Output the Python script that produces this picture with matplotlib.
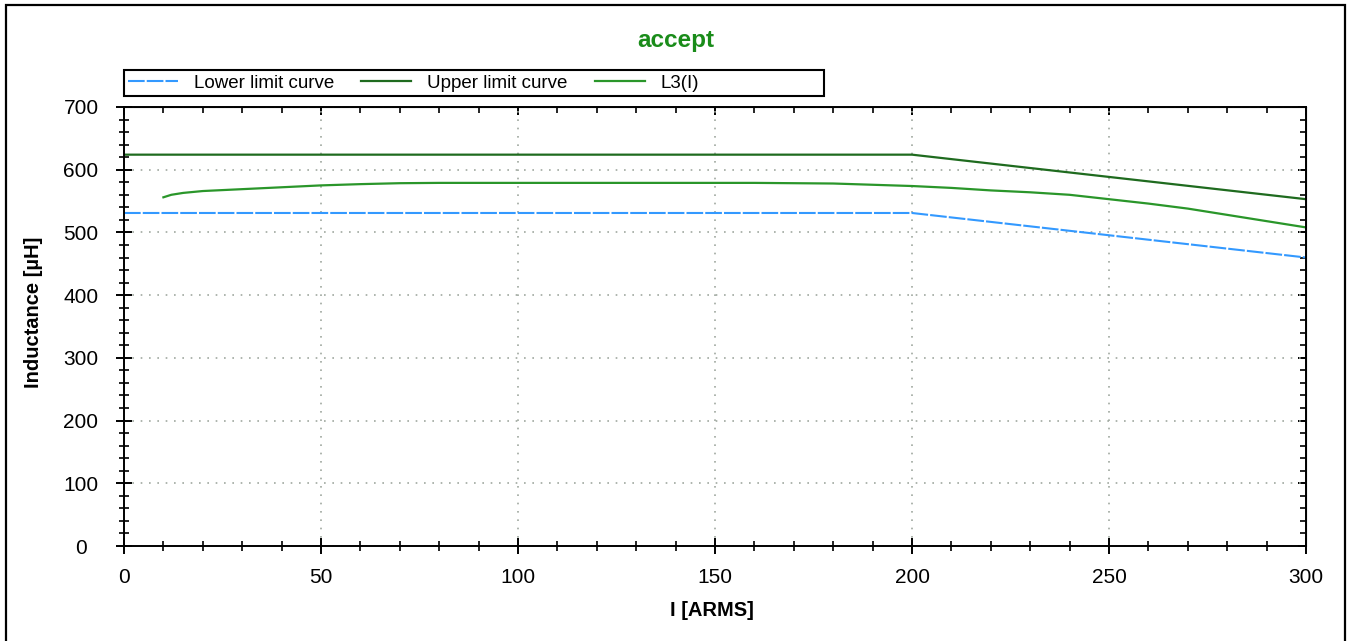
import numpy as np
import matplotlib
matplotlib.use("Agg")
import matplotlib.pyplot as plt
from matplotlib.patches import Rectangle
from matplotlib.ticker import MultipleLocator

plt.rcParams['font.family'] = ['Liberation Sans', 'DejaVu Sans']

# limit curves (corner points)
limit_x = [0, 200, 300]
lower_limit = [531, 531, 460]
upper_limit = [624, 624, 553]

# measured L3(I)
l3_x = [10, 12, 15, 20, 30, 40, 50, 60, 70, 80, 100, 120, 140, 160, 180,
        190, 200, 210, 220, 230, 240, 250, 260, 270, 280, 290, 300]
l3_y = [556, 560, 563, 566, 569, 572, 575, 577, 578.5, 579, 579, 579, 579, 579, 578,
        576, 574, 571, 567, 564, 560, 553, 546, 538, 528, 518, 508]

W, H = 1353, 641
fig = plt.figure(figsize=(W / 100, H / 100), dpi=100)
ax = fig.add_axes([124 / W, 1 - 546 / H, (1306 - 124) / W, (546 - 107) / H])

ax.plot(limit_x, lower_limit, color='#3399ff', lw=1.5, ls=(0, (8, 1)), label='Lower limit curve')
ax.plot(limit_x, upper_limit, color='#1f6b1f', lw=1.6, label='Upper limit curve')
ax.plot(l3_x, l3_y, color='#2a962a', lw=1.6, label='L3(I)')

ax.set_xlim(0, 300)
ax.set_ylim(0, 700)
ax.set_xticks(np.arange(0, 301, 50))
ax.set_yticks(np.arange(0, 701, 100))
ax.xaxis.set_minor_locator(MultipleLocator(10))
ax.yaxis.set_minor_locator(MultipleLocator(20))
ax.tick_params(which='major', direction='inout', length=12, width=1.4, labelsize=15)
ax.tick_params(which='minor', direction='inout', length=7, width=1.2)
ax.tick_params(axis='x', which='major', pad=10)
ax.tick_params(axis='y', which='major', pad=25)
plt.setp(ax.get_yticklabels(), ha='center')
for s in ax.spines.values():
    s.set_linewidth(1.4)
ax.grid(True, which='major', color='#a0a8a0', ls=(0, (1, 4)), lw=1.2)

# inward ticks on top and right
top = ax.secondary_xaxis('top')
top.set_xticks(np.arange(0, 301, 50))
top.xaxis.set_minor_locator(MultipleLocator(10))
top.tick_params(which='major', direction='in', length=6, width=1.4, labeltop=False)
top.tick_params(which='minor', direction='in', length=4, width=1.2)
right = ax.secondary_yaxis('right')
right.set_yticks(np.arange(0, 701, 100))
right.yaxis.set_minor_locator(MultipleLocator(20))
right.tick_params(which='major', direction='in', length=6, width=1.4, labelright=False)
right.tick_params(which='minor', direction='in', length=4, width=1.2)

fig.text(676 / W, 1 - 40 / H, 'accept', ha='center', va='center',
         color='#1a8c1a', fontsize=17.5, fontweight='bold')
fig.text(712 / W, 1 - 611 / H, 'I [ARMS]', ha='center', va='center',
         fontsize=14.5, fontweight='bold')
fig.text(34 / W, 1 - 312 / H, 'Inductance [µH]', ha='center', va='center',
         rotation=90, fontsize=14.5, fontweight='bold')

# legend strip with its own box
fig.legend(loc='center left', bbox_to_anchor=(124 / W, 1 - 83 / H), ncol=3,
           frameon=False, fontsize=13.5, handlelength=2.67, handletextpad=0.85,
           columnspacing=1.45, borderaxespad=0, borderpad=0.2)
fig.patches.append(Rectangle((124 / W, 1 - 96 / H), 700 / W, 26 / H,
                             transform=fig.transFigure, fill=False,
                             edgecolor='black', lw=1.5))

# outer frame
fig.patches.append(Rectangle((6 / W, -0.05), (1345 - 6) / W, 1 - 5 / H + 0.05,
                             transform=fig.transFigure, fill=False,
                             edgecolor='black', lw=1.6))

fig.savefig('out.png', dpi=100)
